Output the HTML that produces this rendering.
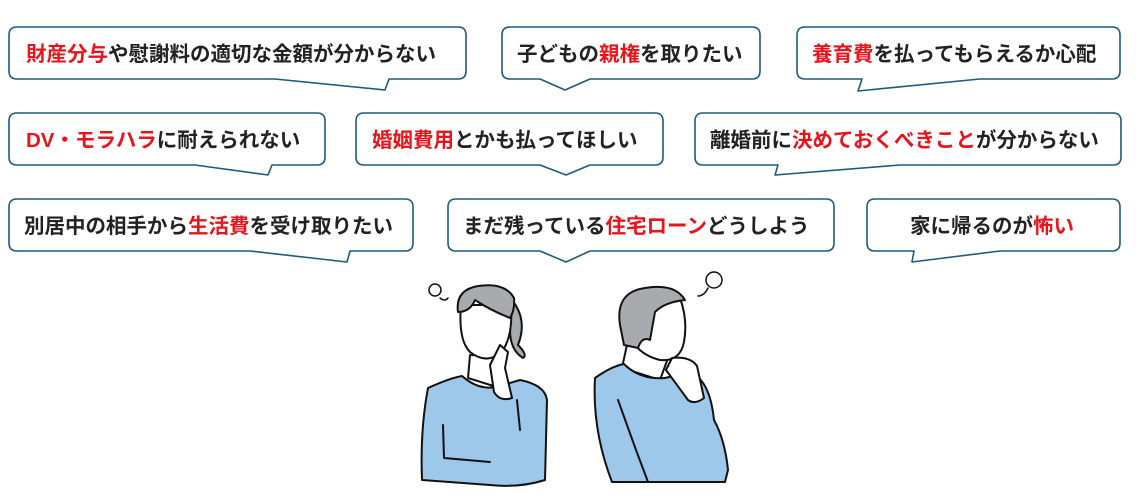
<!DOCTYPE html>
<html><head><meta charset="utf-8"><style>
body{margin:0;background:#fff;width:1140px;height:498px;overflow:hidden}
svg text{font-family:"Liberation Sans","Noto Sans CJK JP",sans-serif;font-size:20.5px;font-weight:700;fill:#222}
.r{fill:#e8141b}
</style></head><body>
<svg width="1140" height="498" viewBox="0 0 1140 498" xmlns="http://www.w3.org/2000/svg">
<g fill="#fff" stroke="#1e5a7c" stroke-width="1.6" stroke-linejoin="round">
<path d="M17 27H458Q466 27 466 35V71Q466 79 458 79H389L385 90L275 79H17Q9 79 9 71V35Q9 27 17 27Z"/>
<path d="M510 27H752Q760 27 760 35V71Q760 79 752 79H590L565 90L540 79H510Q502 79 502 71V35Q502 27 510 27Z"/>
<path d="M805 27H1112Q1120 27 1120 35V71Q1120 79 1112 79H980L858 91L862 79H805Q797 79 797 71V35Q797 27 805 27Z"/>
<path d="M17 113H317Q325 113 325 121V157Q325 165 317 165H272L268 175L195 165H17Q9 165 9 157V121Q9 113 17 113Z"/>
<path d="M364 113H655Q663 113 663 121V157Q663 165 655 165H590L566 175L540 165H364Q356 165 356 157V121Q356 113 364 113Z"/>
<path d="M703 113H1113Q1121 113 1121 121V157Q1121 165 1113 165H900L775 175L778 165H703Q695 165 695 157V121Q695 113 703 113Z"/>
<path d="M17 199H405Q413 199 413 207V243Q413 251 405 251H350L347 262L250 251H17Q9 251 9 243V207Q9 199 17 199Z"/>
<path d="M456 199H826Q834 199 834 207V243Q834 251 826 251H590L566 262L540 251H456Q448 251 448 243V207Q448 199 456 199Z"/>
<path d="M875 199H1112Q1120 199 1120 207V243Q1120 251 1112 251H1000L912 262L914 251H875Q867 251 867 243V207Q867 199 875 199Z"/>
</g>
<text x="26" y="61"><tspan class="r">財産分与</tspan>や慰謝料の適切な金額が分からない</text>
<text x="517" y="61">子どもの<tspan class="r">親権</tspan>を取りたい</text>
<text x="812" y="61"><tspan class="r">養育費</tspan>を払ってもらえるか心配</text>
<text x="26" y="147"><tspan class="r">DV・モラハラ</tspan>に耐えられない</text>
<text x="372" y="147"><tspan class="r">婚姻費用</tspan>とかも払ってほしい</text>
<text x="710" y="147">離婚前に<tspan class="r">決めておくべきこと</tspan>が分からない</text>
<text x="24" y="233">別居中の相手から<tspan class="r">生活費</tspan>を受け取りたい</text>
<text x="463" y="233">まだ残っている<tspan class="r">住宅ローン</tspan>どうしよう</text>
<text x="910" y="233">家に帰るのが<tspan class="r">怖い</tspan></text>
<g stroke="#111" stroke-width="2" stroke-linecap="round" stroke-linejoin="round">
<!-- woman -->
<path d="M512 300Q528 320 518 345Q528 355 523 358Q510 350 510 330Z" fill="#a8aaad"/>
<path d="M470 355L468 378L500 388L505 356Z" fill="#fff"/>
<path d="M428 388Q450 378 462 376Q480 392 500 386L520 380Q545 385 547 400L545 480Q520 488 490 485L422 480Q420 430 428 388Z" fill="#9dc8ea"/>
<path d="M461 305Q458 340 470 352Q488 366 503 350Q513 335 511 305Z" fill="#fff"/>
<path d="M458 312Q455 290 478 286Q505 282 514 298Q515 310 510 318Q490 310 475 300Q470 312 458 312Z" fill="#a8aaad"/>
<path d="M490 365L500 345L508 352L505 368L512 398Q500 402 494 392Z" fill="#fff"/>
<path d="M443 425L444 458L490 462" fill="none"/>
<path d="M517 400L520 430" fill="none"/>
<circle cx="435" cy="290" r="6" fill="none" stroke-width="1.5"/>
<path d="M440 298Q445 302 448 298" fill="none" stroke-width="1.5"/>
<!-- man -->
<path d="M628 340L622 368L660 380L668 358Z" fill="#fff"/>
<path d="M595 378Q612 366 624 364Q640 380 665 378L690 372Q710 380 714 420Q725 440 728 470L725 482L612 482Q592 430 595 378Z" fill="#9dc8ea"/>
<path d="M630 300Q650 285 680 298Q688 320 684 342Q680 362 660 360Q640 355 632 340Z" fill="#fff"/>
<path d="M620 325Q615 292 645 288Q675 283 685 300Q665 302 655 312L650 340Q642 336 638 348L624 345Z" fill="#a8aaad"/>
<path d="M666 370L672 358Q690 356 697 366L704 398Q695 405 688 400Z" fill="#fff"/>
<path d="M618 400L636 450L648 482" fill="none"/>
<circle cx="714" cy="280" r="8" fill="none" stroke-width="1.5"/>
<path d="M708 288Q704 296 698 296" fill="none" stroke-width="1.5"/>
</g>
</svg>
</body></html>
